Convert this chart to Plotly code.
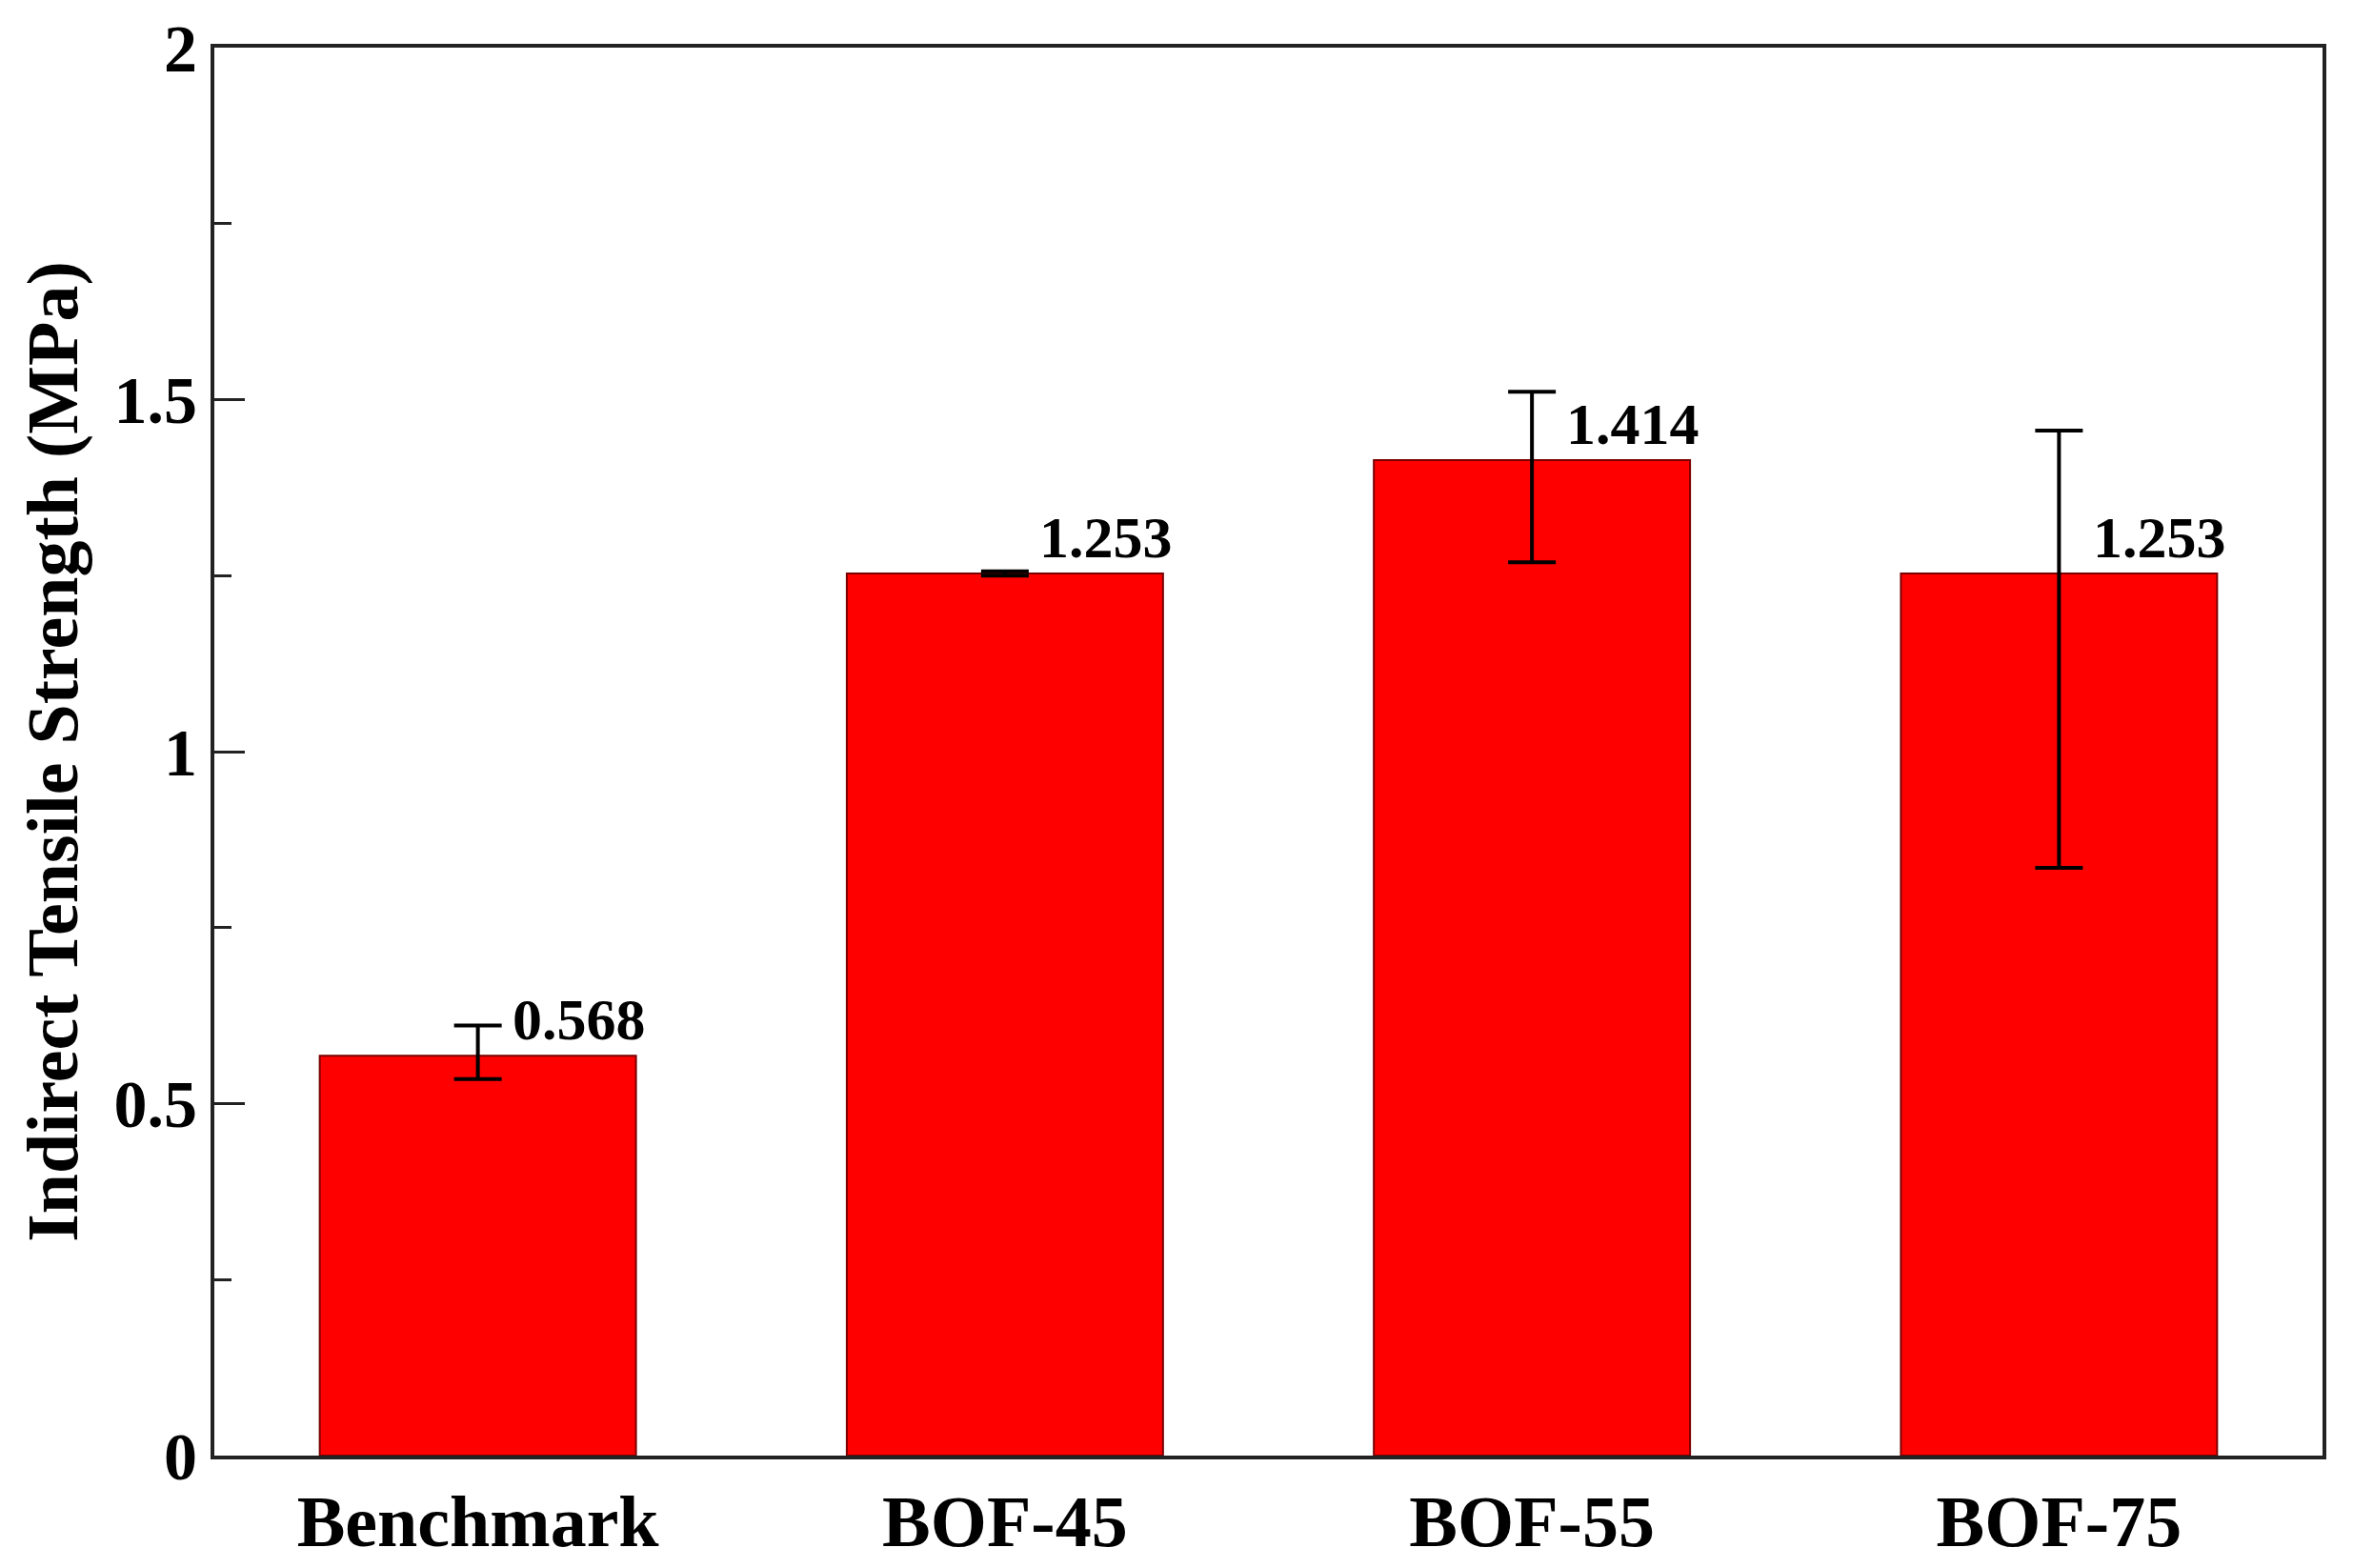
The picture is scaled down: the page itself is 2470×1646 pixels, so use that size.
import plotly.graph_objects as go

categories = ["Benchmark", "BOF-45", "BOF-55", "BOF-75"]
values = [0.568, 1.253, 1.414, 1.253]
err_plus = [0.043, 0.003, 0.097, 0.203]
err_minus = [0.033, 0.003, 0.145, 0.418]
labels = ["0.568", "1.253", "1.414", "1.253"]
ytick_vals = [0, 0.5, 1, 1.5, 2]
ytick_text = ["0", "0.5", "1", "1.5", "2"]

FONT = "Liberation Serif"

fig = go.Figure()
fig.add_trace(go.Bar(
    x=categories, y=values, width=0.6,
    marker=dict(color="#FF0000", line=dict(color="#7a0000", width=2)),
    error_y=dict(type="data", symmetric=False, array=err_plus, arrayminus=err_minus,
                 color="black", thickness=4, width=25),
    showlegend=False,
))

for c, v, t in zip(categories, values, labels):
    fig.add_annotation(x=c, y=v, text="<b>%s</b>" % t, showarrow=False,
                       xanchor="left", yanchor="middle", xshift=34, yshift=38,
                       font=dict(family=FONT, size=62, color="black"))

fig.update_layout(
    width=2470, height=1646,
    margin=dict(l=217, r=40, t=42, b=126),
    paper_bgcolor="white", plot_bgcolor="white",
    font=dict(family=FONT, color="black"),
    bargap=0.4,
)
fig.update_xaxes(
    showline=True, mirror=True, linecolor="#222", linewidth=4,
    ticks="", showgrid=False, automargin=False,
    tickfont=dict(family=FONT, size=76, color="black"),
    tickprefix="<b>", ticksuffix="</b>",
    range=[-0.5, 3.5],
)
fig.update_yaxes(
    range=[0, 2], showline=True, mirror=True, linecolor="#222", linewidth=4,
    showgrid=False, zeroline=False, automargin=False,
    tickvals=ytick_vals, ticktext=["<b>%s</b>" % t for t in ytick_text],
    ticks="inside", ticklen=32, tickwidth=3, tickcolor="#222",
    minor=dict(tickvals=[0.25, 0.75, 1.25, 1.75], ticks="inside", ticklen=18,
               tickwidth=3, tickcolor="#222", showgrid=False),
    tickfont=dict(family=FONT, size=70, color="black"),
    title=dict(text="<b>Indirect Tensile Strength (MPa)</b>",
               font=dict(family=FONT, size=76, color="black"), standoff=14),
)

fig.write_html("out.html")
